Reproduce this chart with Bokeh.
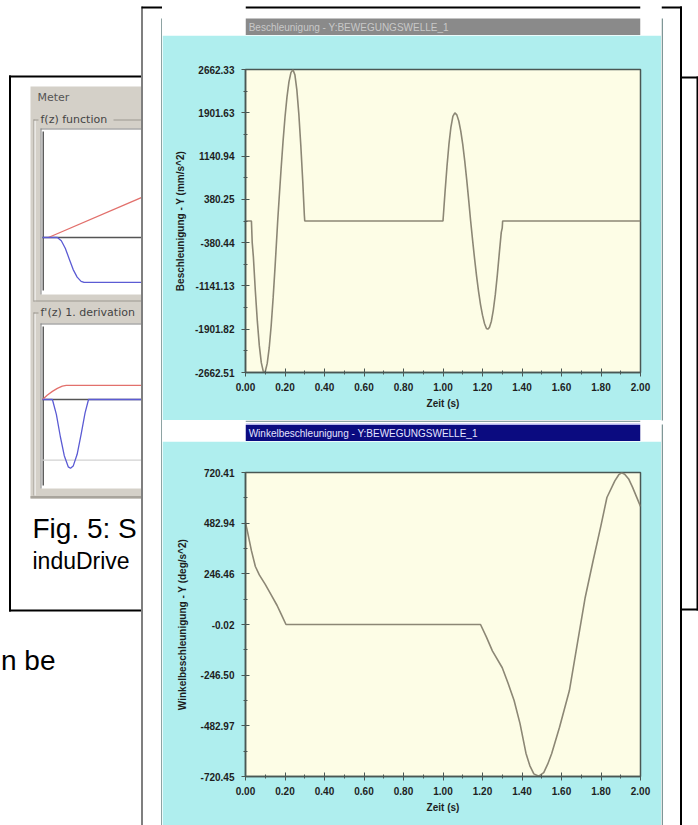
import numpy as np
from bokeh.plotting import figure
from bokeh.layouts import row, column
from bokeh.models import Range1d, FixedTicker, PrintfTickFormatter
from bokeh.embed import file_html
from bokeh.resources import INLINE
from bokeh.core.properties import value

# ---------------- data: upper window (Beschleunigung - Y) ----------------
accel_t = [0.00, 0.03, 0.034, 0.04, 0.05, 0.06, 0.07, 0.08, 0.09, 0.095,
           0.10, 0.11, 0.12, 0.13, 0.14, 0.15, 0.16, 0.163,
           0.17, 0.18, 0.19, 0.20, 0.21, 0.22, 0.23, 0.24,
           0.25, 0.26, 0.27, 0.28, 0.29, 0.298, 0.30,
           1.00, 1.005, 1.01, 1.02, 1.03, 1.04, 1.05, 1.06,
           1.07, 1.08, 1.09, 1.10, 1.11, 1.12, 1.13, 1.14,
           1.15, 1.16, 1.17, 1.18, 1.19, 1.20, 1.21, 1.22, 1.227,
           1.235, 1.245, 1.255, 1.265, 1.275, 1.285, 1.295, 1.30, 1.302, 2.00]
accel_v = [0, 0, -380, -636, -1238, -1765, -2191, -2489, -2643, -2660,
           -2644, -2503, -2231, -1840, -1347, -788, -186, 0,
           379, 906, 1395, 1823, 2178, 2444, 2607, 2660,
           2571, 2305, 1882, 1331, 689, 100, 0,
           0, 250, 495, 950, 1345, 1647, 1837, 1901,
           1865, 1757, 1580, 1345, 1057, 728, 371, 0,
           -340, -667, -970, -1237, -1468, -1655, -1800, -1888, -1901,
           -1870, -1760, -1560, -1290, -950, -570, -200, -120, 0, 0]
accel_y_ticks = [2662.33, 1901.63, 1140.94, 380.25, -380.44, -1141.13, -1901.82, -2662.51]

# ---------------- data: lower window (Winkelbeschleunigung - Y) ----------------
angacc_t = [0.00, 0.01, 0.03, 0.05, 0.07, 0.10, 0.13, 0.16, 0.18, 0.205,
            1.19, 1.22, 1.25, 1.30, 1.33, 1.36, 1.39, 1.42, 1.44, 1.46,
            1.485, 1.51, 1.53, 1.55, 1.59, 1.64, 1.68, 1.72, 1.76, 1.80,
            1.83, 1.87, 1.89, 1.905, 1.92, 1.94, 1.96, 1.98, 2.00]
angacc_v = [482.9, 440, 350, 275, 235, 190, 140, 90, 50, -0.02,
            -0.02, -60, -125, -205, -280, -360, -470, -610, -670, -708,
            -719, -702, -662, -613, -487, -313, -92, 128, 302, 470,
            602, 681, 710, 719, 712, 690, 650, 605, 560]
angacc_y_min, angacc_y_max = -720.45, 720.41
angacc_y_labels = ["720.41", "482.94", "246.46", "-0.02", "-246.50", "-482.97", "-720.45"]

x_ticks = [0.0, 0.2, 0.4, 0.6, 0.8, 1.0, 1.2, 1.4, 1.6, 1.8, 2.0]

# ---------------- data: partly hidden "Meter" screenshot ----------------
meter_zero_z = [0.0, 1.0]
meter_zero_v = [0.0, 0.0]
meter1_red_z = [0.06, 1.0]
meter1_red_v = [0.0, 0.374]
meter1_blue_z = [0.0, 0.15, 0.19, 0.23, 0.27, 0.31, 0.35, 0.39, 0.42, 1.0]
meter1_blue_v = [0.0, 0.0, -0.03, -0.10, -0.20, -0.30, -0.37, -0.41, -0.42, -0.42]
meter2_red_z = [0.0, 0.05, 0.10, 0.15, 0.20, 0.24, 1.0]
meter2_red_v = [0.0, 0.06, 0.11, 0.15, 0.18, 0.19, 0.19]
meter2_blue_z = [0.0, 0.10, 0.14, 0.18, 0.22, 0.26, 0.283, 0.31, 0.35, 0.39, 0.43, 0.465, 1.0]
meter2_blue_v = [0.0, 0.0, -0.20, -0.50, -0.76, -0.91, -0.93, -0.90, -0.74, -0.47, -0.18, 0.0, 0.0]
meter2_floor_v = [-0.82, -0.82]

# ---------------- styles ----------------
CYAN = "#afeeee"
IVORY = "#fdfde6"
CURVE = "#8c8775"
AXIS = "#4a5754"
PANEL = "#d4d0c8"
FONT = "Liberation Sans"
W, H = 698, 825


def canvas(x0, x1, y0, y1, bg="white"):
    p = figure(width=x1 - x0, height=y1 - y0,
               x_range=Range1d(x0, x1), y_range=Range1d(y1, y0),
               toolbar_location=None, output_backend="svg",
               x_axis_location=None, y_axis_location=None,
               min_border=0, background_fill_color=bg, border_fill_color=bg,
               outline_line_color=None)
    p.xgrid.visible = False
    p.ygrid.visible = False
    return p


def rect(p, x0, x1, y0, y1, color):
    p.quad(left=[x0], right=[x1], top=[y0], bottom=[y1],
           fill_color=color, line_color=None)


def label(p, x, y, s, size, color="black", font=FONT, style="normal",
          baseline="middle", align="left"):
    p.text(x=[x], y=[y], text=[s], text_font=value(font), text_font_size=size,
           text_font_style=style, text_color=color, text_baseline=baseline,
           text_align=align)


def lin_range(p0, v0, p1, v1, a, b):
    f = lambda q: v0 + (q - p0) * (v1 - v0) / (p1 - p0)
    return Range1d(start=f(a), end=f(b))


# ---------------- left strip: document page with meter screenshot ----------------
L = canvas(0, 141, 0, H)
rect(L, 8.5, 141, 75, 77, "black")
rect(L, 8.5, 10.5, 75, 611, "black")
rect(L, 8.5, 141, 609, 611, "black")
rect(L, 30, 141, 86, 498, PANEL)
rect(L, 30, 141, 495.5, 498, "#a8a49c")
label(L, 37, 97, "Meter", "11px", "#555555", font="DejaVu Sans")

# group box 1
rect(L, 33, 34, 119, 301, "#9c9890")
rect(L, 34, 35, 120, 301, "white")
rect(L, 33, 141, 119, 120, "#9c9890")
rect(L, 33, 141, 300, 301, "#9c9890")
rect(L, 38, 113, 113, 126, PANEL)
label(L, 40, 119, "f(z) function", "11px", "#444444", font="DejaVu Sans")
rect(L, 40, 141, 128, 294, "white")
rect(L, 40, 141, 128, 129, "#808080")
rect(L, 40, 41, 128, 294, "#808080")
rect(L, 42, 43.5, 131, 290, "#5e5e5e")

# group box 2
rect(L, 33, 34, 312, 495, "#9c9890")
rect(L, 34, 35, 313, 495, "white")
rect(L, 33, 141, 312, 313, "#9c9890")
rect(L, 38, 141, 306, 319, PANEL)
label(L, 40, 312, "f'(z) 1. derivation", "11px", "#444444", font="DejaVu Sans")
rect(L, 40, 141, 323, 488, "white")
rect(L, 40, 141, 323, 324, "#808080")
rect(L, 40, 41, 323, 488, "#808080")
rect(L, 42, 43.5, 326, 485, "#5e5e5e")

L.extra_x_ranges = {"mz": lin_range(42, 0.0, 141, 1.0, 0, 141)}
L.extra_y_ranges = {"m1": lin_range(237, 0.0, 130, 1.0, H, 0),
                    "m2": lin_range(399, 0.0, 325, 1.0, H, 0)}
L.line(meter_zero_z, meter_zero_v, x_range_name="mz", y_range_name="m1",
       line_color="#555555", line_width=1.5)
L.line(meter1_red_z, meter1_red_v, x_range_name="mz", y_range_name="m1",
       line_color="#e2706c", line_width=1.3)
L.line(meter1_blue_z, meter1_blue_v, x_range_name="mz", y_range_name="m1",
       line_color="#5b5bd4", line_width=1.3)
L.line(meter_zero_z, meter2_floor_v, x_range_name="mz", y_range_name="m2",
       line_color="#d2d2d2", line_width=1.2)
L.line(meter_zero_z, meter_zero_v, x_range_name="mz", y_range_name="m2",
       line_color="#555555", line_width=1.5)
L.line(meter2_red_z, meter2_red_v, x_range_name="mz", y_range_name="m2",
       line_color="#e2706c", line_width=1.3)
L.line(meter2_blue_z, meter2_blue_v, x_range_name="mz", y_range_name="m2",
       line_color="#5b5bd4", line_width=1.3)

label(L, 32, 528, "Fig. 5: S", "28px", baseline="alphabetic")
label(L, 32, 560, "induDrive", "23px", baseline="alphabetic")
label(L, 0.5, 660, "n be", "28px", baseline="alphabetic")

# ---------------- window frame strips ----------------
Wl = canvas(141, 162, 0, H)
rect(Wl, 140, 142, 6, H, "black")
rect(Wl, 140, 162, 6, 8, "black")
rect(Wl, 160.5, 162, 18, H, "#8ea3a3")

R = canvas(661, W, 0, H)
rect(R, 661, 662.5, 18, 420, "#7f9696")
rect(R, 661, 662.5, 424, H, "#7f9696")
rect(R, 661, 681.5, 6, 8, "black")
rect(R, 679.5, 681.5, 6, H, "black")
rect(R, 681.5, W, 76, 78, "black")
rect(R, 681.5, W, 608, 610, "black")
rect(R, 696, 698, 76, 610, "black")

T1 = canvas(162, 661, 0, 35)
rect(T1, 162, 661, 6, 8, "black")
rect(T1, 162, 661, 18, 35, "#8a8a8a")
label(T1, 166, 26.5, "Beschleunigung - Y:BEWEGUNGSWELLE_1", "10px", "#c8c8c8")

T2 = canvas(162, 661, 420, 441)
rect(T2, 162, 661, 420, 421.5, "#8ea3a3")
rect(T2, 162, 661, 423, 424.5, "#b4b4ec")
rect(T2, 162, 661, 424.5, 441, "#0b0b80")
label(T2, 166, 433, "Winkelbeschleunigung - Y:BEWEGUNGSWELLE_1", "10px", "#e4e4ff")


# ---------------- the two charts ----------------
def style_chart(p):
    p.grid.visible = False
    p.outline_line_color = AXIS
    p.outline_line_width = 1.5
    for ax in p.axis:
        ax.axis_line_color = AXIS
        ax.axis_line_width = 1.5
        ax.major_tick_line_color = AXIS
        ax.minor_tick_line_color = AXIS
        ax.major_tick_in = 4
        ax.major_tick_out = 4
        ax.minor_tick_in = 2
        ax.minor_tick_out = 2
        ax.major_label_text_font = FONT
        ax.major_label_text_font_size = "10px"
        ax.major_label_text_font_style = "bold"
        ax.major_label_text_color = "#1e1e1e"
        ax.axis_label_text_font = FONT
        ax.axis_label_text_font_size = "10px"
        ax.axis_label_text_font_style = "bold"
        ax.axis_label_text_color = "#1e1e1e"
    p.xaxis.major_label_standoff = 6
    p.xaxis.axis_label_standoff = 4
    p.yaxis.major_label_standoff = 7
    p.yaxis.axis_label_standoff = 6
    x_minor = [(a + b) / 2 for a, b in zip(x_ticks[:-1], x_ticks[1:])]
    p.xaxis.ticker = FixedTicker(ticks=x_ticks, minor_ticks=x_minor)
    p.xaxis.formatter = PrintfTickFormatter(format="%.2f")


p1 = figure(width=499, height=385, x_range=Range1d(0, 2),
            y_range=Range1d(min(accel_y_ticks), max(accel_y_ticks)),
            toolbar_location=None, output_backend="svg",
            min_border_left=83, min_border_right=21, min_border_top=34, min_border_bottom=48,
            background_fill_color=IVORY, border_fill_color=CYAN,
            x_axis_label="Zeit (s)", y_axis_label="Beschleunigung - Y (mm/s^2)")
p1.line(accel_t, accel_v, line_color=CURVE, line_width=1.6)
style_chart(p1)
a_minor = [(a + b) / 2 for a, b in zip(accel_y_ticks[:-1], accel_y_ticks[1:])]
p1.yaxis.ticker = FixedTicker(ticks=accel_y_ticks, minor_ticks=a_minor)
p1.yaxis.formatter = PrintfTickFormatter(format="%.2f")

p2 = figure(width=499, height=H - 441, x_range=Range1d(0, 2),
            y_range=Range1d(angacc_y_min, angacc_y_max),
            toolbar_location=None, output_backend="svg",
            min_border_left=78, min_border_right=21, min_border_top=31,
            min_border_bottom=H - 441 - 31 - 304,
            background_fill_color=IVORY, border_fill_color=CYAN,
            x_axis_label="Zeit (s)", y_axis_label="Winkelbeschleunigung - Y (deg/s^2)")
p2.line(angacc_t, angacc_v, line_color=CURVE, line_width=1.6)
style_chart(p2)
p2.yaxis.axis_label_standoff = 10
w_ticks = [float(v) for v in np.linspace(angacc_y_max, angacc_y_min, len(angacc_y_labels))]
w_minor = [(a + b) / 2 for a, b in zip(w_ticks[:-1], w_ticks[1:])]
p2.yaxis.ticker = FixedTicker(ticks=w_ticks, minor_ticks=w_minor)
p2.yaxis.major_label_overrides = {t: s for t, s in zip(w_ticks, angacc_y_labels)}

layout = row(L, Wl, column(T1, p1, T2, p2), R)

open("out.html", "w").write(file_html(layout, INLINE))
